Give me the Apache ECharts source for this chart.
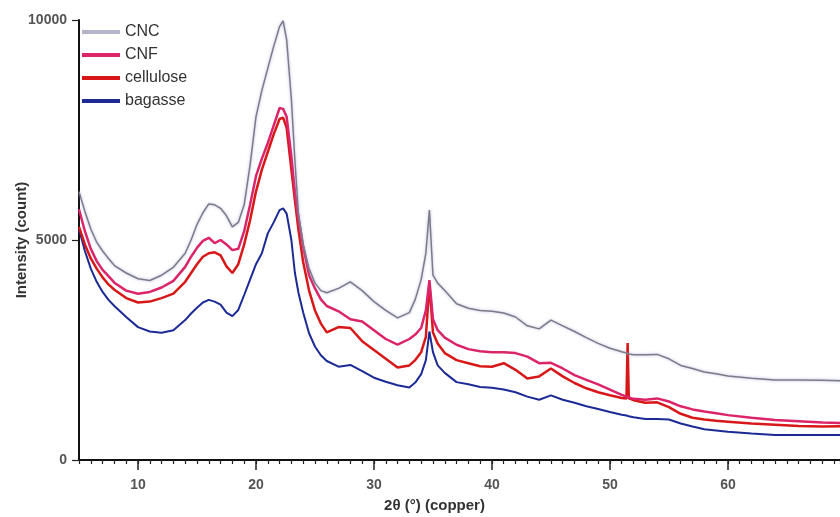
<!DOCTYPE html>
<html>
<head>
<meta charset="utf-8">
<script src="https://cdn.jsdelivr.net/npm/echarts@6/dist/echarts.min.js"></script>
<style>
  html, body { margin: 0; padding: 0; background: #fff; }
  #xrd { width: 840px; height: 517px; }
</style>
</head>
<body>
<div id="xrd"></div>
<script>
// 2θ positions (degrees) shared by every pattern
var angles = [5, 5.5, 6, 6.5, 7, 7.5, 8,
    9, 10, 11, 12, 13, 14,
    14.5, 15, 15.5, 16, 16.5, 17, 17.5, 18, 18.5, 19, 19.5, 20, 20.5, 21, 21.5, 22,
    22.3, 22.6, 23, 23.3, 23.6, 24, 24.5, 25, 25.5, 26,
    27, 28, 29, 30, 31, 32, 33,
    33.5, 34, 34.4, 34.7, 35, 35.4, 36,
    37, 38, 39, 40, 41, 42, 43, 44, 45, 46, 47, 48, 49, 50, 51,
    51.4, 51.5, 51.6, 52, 53, 54, 55, 56, 57, 58, 59, 60,
    62, 64, 66, 68, 70];

// intensity (count)
var cnc = [6100, 5650, 5250, 4950, 4750, 4580, 4420,
    4250, 4120, 4080, 4200, 4380, 4700,
    5000, 5350, 5620, 5820, 5800, 5720, 5550, 5300, 5400, 5800, 6700, 7800, 8400, 8900, 9400, 9850,
    9980, 9550, 8200, 6800, 5610, 4900, 4350, 4020, 3850, 3800,
    3900, 4050, 3850, 3600, 3400, 3230, 3350,
    3650, 4100, 4700, 5680, 4200, 4020, 3850,
    3550, 3450, 3400, 3380, 3340, 3250, 3050, 2980, 3180, 3050, 2920, 2780, 2650, 2540, 2460,
    2430, 2420, 2410, 2390, 2390, 2400, 2300, 2150, 2080, 2000, 1960, 1910,
    1860, 1820, 1820, 1810, 1800];

var cnf = [5700, 5200, 4800, 4520, 4320, 4180, 4030,
    3850, 3780, 3820, 3920, 4070, 4390,
    4620, 4820, 4980, 5050, 4930, 5000, 4900, 4770, 4800, 5200, 5800, 6450, 6850, 7200, 7600, 8000,
    7980, 7800, 6900, 6100, 5500, 4850, 4200, 3900, 3650, 3500,
    3380, 3200, 3150, 2950, 2750, 2620, 2750,
    2850, 3000, 3400, 4090, 3200, 2950, 2780,
    2620, 2520, 2470, 2450, 2450, 2430, 2350, 2200, 2210, 2080, 1930, 1820, 1720, 1600, 1480,
    1440, 1430, 1420, 1390, 1370, 1400, 1330, 1220, 1150, 1100, 1060, 1020,
    960, 910, 880, 850, 840];

var cellulose = [5300, 4900, 4580, 4350, 4150, 3990, 3870,
    3680, 3580, 3600, 3680, 3780, 4050,
    4250, 4450, 4620, 4700, 4720, 4650, 4400, 4250, 4450, 4900, 5450, 6100, 6600, 7000, 7400, 7750,
    7780, 7550, 6600, 5900, 5230, 4500, 3850, 3400, 3100, 2900,
    3020, 3000, 2700, 2500, 2300, 2100, 2150,
    2270, 2450, 2800, 4000, 2900, 2650, 2430,
    2270, 2200, 2130, 2120, 2200, 2050, 1850, 1900, 2080, 1900, 1750, 1630, 1540, 1470, 1410,
    1400, 2660, 1400, 1360, 1300, 1310, 1200, 1050, 960, 920, 890, 870,
    830, 800, 770, 760, 770];

var bagasse = [5250, 4750, 4350, 4050, 3820, 3640, 3500,
    3250, 3020, 2920, 2890, 2950, 3180,
    3330, 3460, 3580, 3640, 3600, 3530, 3350, 3270, 3410, 3750, 4100, 4450, 4700, 5150, 5400, 5680,
    5720, 5600, 5000, 4250, 3800, 3350, 2880, 2580, 2380, 2250,
    2120, 2160, 2020, 1870, 1780, 1700, 1650,
    1760, 1950, 2270, 2920, 2450, 2150, 1980,
    1770, 1720, 1660, 1640, 1600, 1540, 1440, 1370, 1470, 1370, 1300, 1220, 1160, 1090, 1030,
    1010, 1000, 995, 970, 930, 930, 920, 830, 760, 700, 670, 640,
    600, 570, 570, 570, 570];

var xMajor = [10, 20, 30, 40, 50, 60];

function pairs(ys) {
    return angles.map(function (a, i) { return [a, ys[i]]; });
}

var chart = echarts.init(document.getElementById('xrd'));
var font = 'Liberation Sans, Arial, sans-serif';

var option = {
    animation: false,
    backgroundColor: '#fff',
    grid: { left: 79, top: 20, right: 0, bottom: 57, containLabel: false, outerBoundsMode: 'none' },
    legend: {
        data: [
            { name: 'CNC', icon: 'rect', itemStyle: { color: '#b4b4c8' } },
            { name: 'CNF', icon: 'rect', itemStyle: { color: '#dc2468' } },
            { name: 'cellulose', icon: 'rect', itemStyle: { color: '#d81818' } },
            { name: 'bagasse', icon: 'rect', itemStyle: { color: '#1c2a95' } }
        ],
        orient: 'vertical',
        left: 82,
        top: 24,
        padding: 0,
        itemWidth: 38,
        itemHeight: 4,
        itemGap: 7,
        textStyle: { fontFamily: font, fontSize: 16, color: '#333' }
    },
    xAxis: [
        {
            type: 'value',
            min: 5,
            max: 69.5,
            name: '2θ (°) (copper)',
            nameLocation: 'middle',
            nameGap: 38,
            nameMoveOverlap: false,
            nameTextStyle: { fontFamily: font, fontSize: 15, fontWeight: 'bold', color: '#333', padding: [0, 50, 0, 0] },
            axisLine: { lineStyle: { color: '#111', width: 2 } },
            axisTick: { customValues: xMajor, length: 10, lineStyle: { color: '#222', width: 1.5 } },
            axisLabel: { customValues: xMajor, margin: 18, fontFamily: font, fontSize: 14, fontWeight: 'bold', color: '#555' },
            splitLine: { show: false }
        },
        {
            type: 'value',
            position: 'bottom',
            min: 5,
            max: 69.5,
            interval: 1,
            axisLine: { show: false },
            axisTick: { length: 4, lineStyle: { color: '#222', width: 1.2 } },
            axisLabel: { show: false },
            splitLine: { show: false }
        }
    ],
    yAxis: {
        type: 'value',
        min: 0,
        max: 10000,
        interval: 5000,
        name: 'Intensity (count)',
        nameLocation: 'middle',
        nameGap: 50,
        nameMoveOverlap: false,
        nameTextStyle: { fontFamily: font, fontSize: 15, fontWeight: 'bold', color: '#333' },
        axisLine: { show: true, lineStyle: { color: '#111', width: 2 } },
        axisTick: { show: true, length: 7, lineStyle: { color: '#222', width: 1.2 } },
        axisLabel: {
            margin: 12, fontFamily: font, fontSize: 14, fontWeight: 'bold', color: '#555',
            formatter: function (v) { return String(v); }
        },
        splitLine: { show: false }
    },
    series: [
        {
            name: 'bagasse', type: 'line', data: pairs(bagasse), showSymbol: false,
            color: '#1c2a95', lineStyle: { width: 2, color: '#1c2a95' }
        },
        {
            name: 'cellulose', type: 'line', data: pairs(cellulose), showSymbol: false,
            color: '#d81818', lineStyle: { width: 2.5, color: '#d81818' }
        },
        {
            name: 'CNF', type: 'line', data: pairs(cnf), showSymbol: false,
            color: '#dc2468', lineStyle: { width: 2.5, color: '#dc2468' }
        },
        {
            name: 'CNC', type: 'line', data: pairs(cnc), showSymbol: false,
            color: '#b4b4c8',
            lineStyle: { width: 1.5, color: '#7c7c88', shadowColor: 'rgba(150,150,210,0.7)', shadowBlur: 3 }
        }
    ]
};

chart.setOption(option);
</script>
</body>
</html>
